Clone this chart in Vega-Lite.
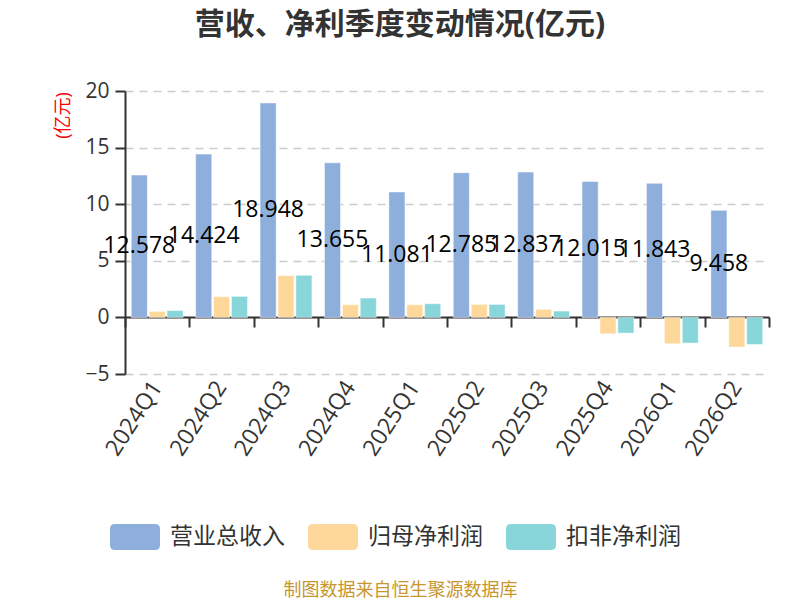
{
  "$schema": "https://vega.github.io/schema/vega-lite/v6.json",
  "autosize": "none",
  "width": 644,
  "height": 283,
  "padding": {"left": 125, "top": 91, "right": 31, "bottom": 226},
  "title": {
    "text": "营收、净利季度变动情况(亿元)",
    "fontSize": 30,
    "fontWeight": "bold",
    "color": "#333333",
    "anchor": "middle",
    "dx": -47,
    "offset": 40
  },
  "data": {
    "values": [
      {"quarter": "2024Q1", "type": "营业总收入", "value": 12.578},
      {"quarter": "2024Q1", "type": "归母净利润", "value": 0.53},
      {"quarter": "2024Q1", "type": "扣非净利润", "value": 0.6},
      {"quarter": "2024Q2", "type": "营业总收入", "value": 14.424},
      {"quarter": "2024Q2", "type": "归母净利润", "value": 1.83},
      {"quarter": "2024Q2", "type": "扣非净利润", "value": 1.86},
      {"quarter": "2024Q3", "type": "营业总收入", "value": 18.948},
      {"quarter": "2024Q3", "type": "归母净利润", "value": 3.69},
      {"quarter": "2024Q3", "type": "扣非净利润", "value": 3.72},
      {"quarter": "2024Q4", "type": "营业总收入", "value": 13.655},
      {"quarter": "2024Q4", "type": "归母净利润", "value": 1.12},
      {"quarter": "2024Q4", "type": "扣非净利润", "value": 1.71},
      {"quarter": "2025Q1", "type": "营业总收入", "value": 11.081},
      {"quarter": "2025Q1", "type": "归母净利润", "value": 1.12},
      {"quarter": "2025Q1", "type": "扣非净利润", "value": 1.21},
      {"quarter": "2025Q2", "type": "营业总收入", "value": 12.785},
      {"quarter": "2025Q2", "type": "归母净利润", "value": 1.15},
      {"quarter": "2025Q2", "type": "扣非净利润", "value": 1.15},
      {"quarter": "2025Q3", "type": "营业总收入", "value": 12.837},
      {"quarter": "2025Q3", "type": "归母净利润", "value": 0.71},
      {"quarter": "2025Q3", "type": "扣非净利润", "value": 0.56},
      {"quarter": "2025Q4", "type": "营业总收入", "value": 12.015},
      {"quarter": "2025Q4", "type": "归母净利润", "value": -1.45},
      {"quarter": "2025Q4", "type": "扣非净利润", "value": -1.39},
      {"quarter": "2026Q1", "type": "营业总收入", "value": 11.843},
      {"quarter": "2026Q1", "type": "归母净利润", "value": -2.33},
      {"quarter": "2026Q1", "type": "扣非净利润", "value": -2.27},
      {"quarter": "2026Q2", "type": "营业总收入", "value": 9.458},
      {"quarter": "2026Q2", "type": "归母净利润", "value": -2.62},
      {"quarter": "2026Q2", "type": "扣非净利润", "value": -2.39}
    ]
  },
  "layer": [
    {
      "mark": {"type": "bar", "stroke": "white", "strokeWidth": 1, "strokeOpacity": 0.5},
      "encoding": {
        "x": {
          "field": "quarter", "type": "nominal", "sort": null,
          "scale": {"paddingInner": 0, "paddingOuter": 0},
          "axis": {
            "orient": "bottom",
            "domain": false,
            "ticks": false,
            "labelAngle": -57,
            "labelAlign": "right",
            "labelBaseline": "middle",
            "labelFontSize": 23,
            "labelColor": "#333333",
            "labelPadding": 9,
            "title": "制图数据来自恒生聚源数据库",
            "titleFontSize": 18,
            "titleFontWeight": "normal",
            "titleColor": "#c8962d",
            "titleX": 275,
            "titleY": 216,
            "titleAlign": "center",
            "titleBaseline": "middle"
          }
        },
        "xOffset": {
          "field": "type", "type": "nominal",
          "scale": {"domain": ["营业总收入", "归母净利润", "扣非净利润"], "paddingInner": 0.1, "paddingOuter": 0.35}
        },
        "y": {
          "field": "value", "type": "quantitative",
          "scale": {"domain": [-5, 20], "nice": false, "zero": false},
          "axis": {
            "values": [-5, 0, 5, 10, 15, 20],
            "grid": true,
            "gridColor": "#cccccc",
            "gridDash": [8, 6],
            "gridWidth": 1.5,
            "domain": true,
            "domainColor": "#333333",
            "domainWidth": 2,
            "ticks": true,
            "tickColor": "#333333",
            "tickWidth": 2,
            "tickSize": 10,
            "labelFontSize": 21,
            "labelColor": "#333333",
            "labelPadding": 6,
            "title": "(亿元)",
            "titleColor": "#ff0000",
            "titleFontSize": 18,
            "titleFontWeight": "normal",
            "titleAngle": -90,
            "titleX": -62,
            "titleY": 24,
            "titleAlign": "center",
            "titleBaseline": "middle"
          }
        },
        "color": {
          "field": "type", "type": "nominal",
          "scale": {"domain": ["营业总收入", "归母净利润", "扣非净利润"], "range": ["#8eaedb", "#fed89b", "#88d6d9"]},
          "legend": {
            "title": null,
            "orient": "none",
            "direction": "horizontal",
            "legendX": -15,
            "legendY": 421
          }
        }
      }
    },
    {
      "transform": [{"filter": "datum.type === '营业总收入'"}],
      "mark": {"type": "text", "fontSize": 23, "color": "#000000"},
      "encoding": {
        "x": {
          "field": "quarter", "type": "nominal", "sort": null,
          "axis": {
            "orient": "bottom",
            "offset": -57,
            "labels": false,
            "domain": true,
            "domainColor": "#333333",
            "domainWidth": 2,
            "ticks": true,
            "tickBand": "extent",
            "tickColor": "#333333",
            "tickWidth": 2,
            "tickSize": 10,
            "grid": false,
            "title": null
          }
        },
        "xOffset": {"field": "type", "type": "nominal"},
        "y": {
          "field": "value", "type": "quantitative",
          "scale": {"domain": [-10, 40], "nice": false, "zero": false},
          "axis": null
        },
        "text": {"field": "value", "type": "quantitative", "format": ".3f"}
      }
    }
  ],
  "resolve": {"scale": {"y": "independent"}, "axis": {"x": "independent", "y": "independent"}},
  "config": {
    "font": "Open Sans, Noto Sans CJK SC",
    "view": {"stroke": null},
    "legend": {
      "symbolType": "M-0.8,-0.52H0.8Q1,-0.52 1,-0.32V0.32Q1,0.52 0.8,0.52H-0.8Q-1,0.52 -1,0.32V-0.32Q-1,-0.52 -0.8,-0.52Z",
      "symbolSize": 2500,
      "symbolStrokeWidth": 0,
      "symbolOpacity": 1,
      "labelFontSize": 23,
      "labelColor": "#333333",
      "labelOffset": 10,
      "columnPadding": 23,
      "padding": 0
    }
  }
}
